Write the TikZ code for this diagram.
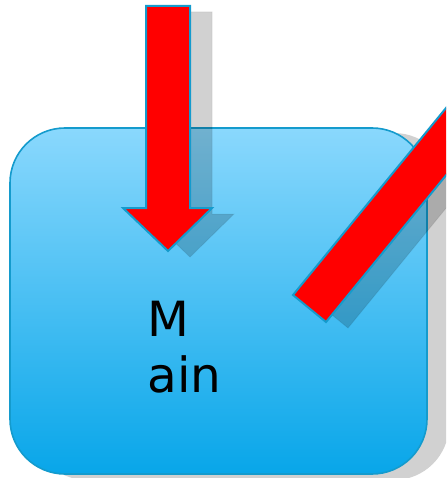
\documentclass[tikz,border=0pt]{standalone}
\usepackage{fontspec}
\setmainfont{DejaVu Sans}
\definecolor{boxtop}{RGB}{138,216,253}
\definecolor{boxbot}{RGB}{8,166,233}
\definecolor{edgeblue}{RGB}{20,155,205}
\tikzset{
  shadowfill/.style={fill=black,fill opacity=0.18,draw=black,draw opacity=0.06,line width=1pt},
  redshape/.style={fill=red,draw=edgeblue,line width=2pt,line join=miter},
  boxshape/.style={top color=boxtop,bottom color=boxbot,draw=edgeblue,line width=1.6pt},
  label/.style={font=\fontsize{48.5}{56}\selectfont,align=left,inner sep=0pt,anchor=north west,text=black}
}
\begin{document}
\begin{tikzpicture}[x=1pt,y=-1pt]
\useasboundingbox (0,0) rectangle (446,478);
\clip (0,0) rectangle (446,478);
% box shadow
\fill[shadowfill,draw=none,rounded corners=55pt] (32,133) rectangle (449,480);
% box
\path[boxshape,rounded corners=55pt] (10,128) rectangle (427,474);
% arrow shadow
\path[shadowfill,shift={(22,6)}] (146,6) -- (190,6) -- (190,208) -- (212,208) -- (168,251) -- (123,208) -- (146,208) -- cycle;
% arrow
\path[redshape] (146,6) -- (190,6) -- (190,208) -- (212,208) -- (168,251) -- (123,208) -- (146,208) -- cycle;
% bar shadow
\path[shadowfill,shift={(22,6)}] (293,295) -- (326,322) -- (569,25) -- (536,-2) -- cycle;
% bar
\path[redshape] (293,295) -- (326,322) -- (569,25) -- (536,-2) -- cycle;
% text
\node[label] (main) at (147.5,300.5) {M\\ain};
\end{tikzpicture}
\end{document}
